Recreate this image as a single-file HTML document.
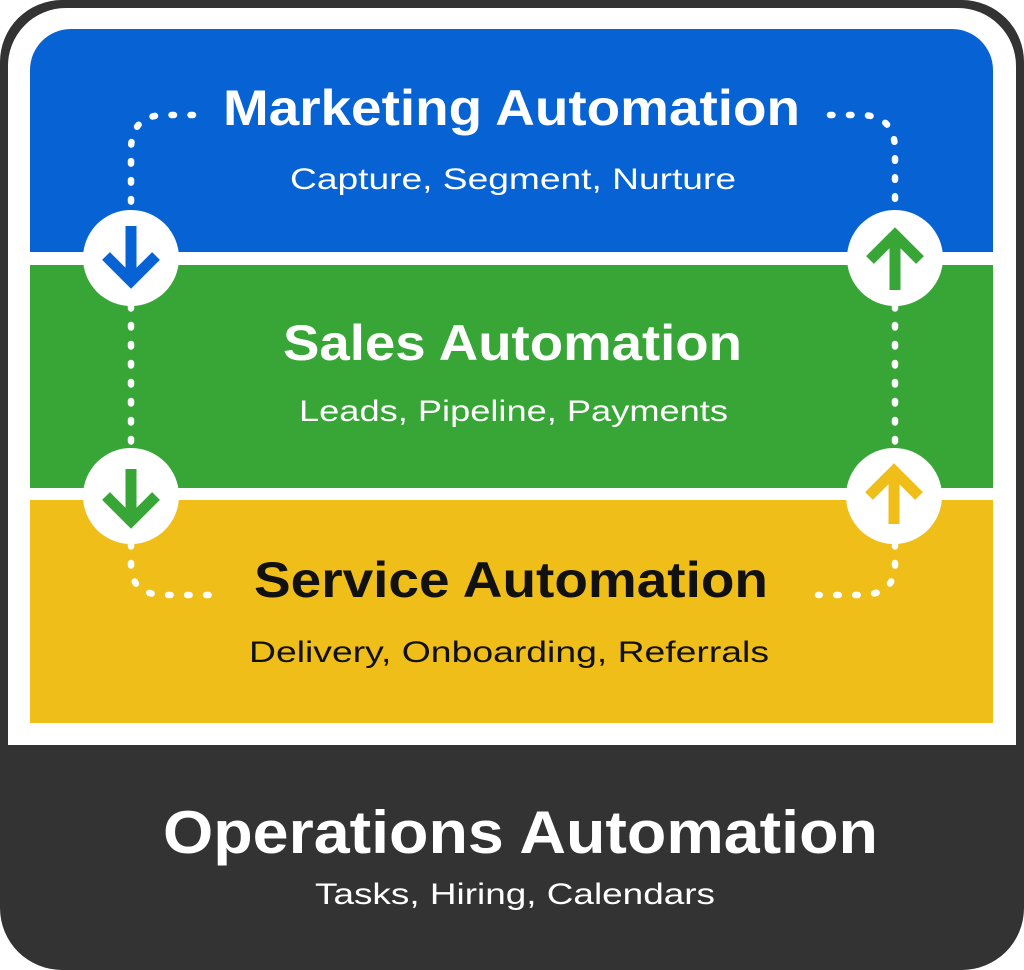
<!DOCTYPE html>
<html><head><meta charset="utf-8"><style>
html,body{margin:0;padding:0;background:#fff;}
svg{display:block;}
text{font-family:"Liberation Sans",sans-serif;}
</style></head><body>
<svg width="1024" height="970" viewBox="0 0 1024 970" xmlns="http://www.w3.org/2000/svg">
<rect x="0" y="0" width="1024" height="970" rx="62" fill="#333333"/>
<path d="M8,68 A58,58 0 0 1 66,8 L958,8 A58,58 0 0 1 1016,66 L1016,745 L8,745 Z" fill="#ffffff"/>
<path d="M30,70 A41,41 0 0 1 71,29 L952,29 A41,41 0 0 1 993,70 L993,252 L30,252 Z" fill="#0763d3"/>
<rect x="30" y="265" width="963" height="223" fill="#37a637"/>
<rect x="30" y="500" width="963" height="223" fill="#f0be18"/>
<g fill="none" stroke="#ffffff" stroke-width="6.5" stroke-linecap="round" stroke-dasharray="2.5 16.5">
<path d="M193,115 L165,115 Q131,115 131,150 L131,210"/>
<path d="M131,306 L131,448"/>
<path d="M131,544 L131,565 Q131,595 165,595 L210,595"/>
<path d="M830,115 L860,115 Q895,115 895,150 L895,210"/>
<path d="M895,306 L895,448"/>
<path d="M895,544 L895,565 Q895,595 860,595 L818,595"/>
</g>
<g fill="#ffffff">
<circle cx="131" cy="258" r="48"/><circle cx="895" cy="258" r="48"/>
<circle cx="131" cy="496" r="48"/><circle cx="894" cy="496" r="48"/>
</g>
<g fill="none" stroke-width="11" stroke-linejoin="miter">
<path d="M131,226 L131,282 M106,256 L131,281 L156,256" stroke="#0763d3"/>
<path d="M895,290 L895,234 M870,260 L895,235 L920,260" stroke="#37a637"/>
<path d="M131,469 L131,523 M106,496 L131,521 L156,496" stroke="#37a637"/>
<path d="M894,524 L894,470 M869,496 L894,471 L919,496" stroke="#f0be18"/>
</g>
<g font-weight="bold" text-anchor="start">
<text x="223" y="125" font-size="50" fill="#fff" textLength="577" lengthAdjust="spacingAndGlyphs">Marketing Automation</text>
<text x="283" y="360" font-size="50" fill="#fff" textLength="459" lengthAdjust="spacingAndGlyphs">Sales Automation</text>
<text x="254" y="597" font-size="50" fill="#111" textLength="514" lengthAdjust="spacingAndGlyphs">Service Automation</text>
<text x="163" y="853" font-size="60" fill="#fff" textLength="715" lengthAdjust="spacingAndGlyphs">Operations Automation</text>
</g>
<g font-size="30" font-weight="500">
<text x="290" y="189" fill="#fff" textLength="446" lengthAdjust="spacingAndGlyphs">Capture, Segment, Nurture</text>
<text x="299" y="421" fill="#fff" textLength="429" lengthAdjust="spacingAndGlyphs">Leads, Pipeline, Payments</text>
<text x="249" y="662" fill="#111" textLength="520" lengthAdjust="spacingAndGlyphs">Delivery, Onboarding, Referrals</text>
<text x="315" y="904" fill="#fff" textLength="400" lengthAdjust="spacingAndGlyphs">Tasks, Hiring, Calendars</text>
</g>
</svg>
</body></html>
